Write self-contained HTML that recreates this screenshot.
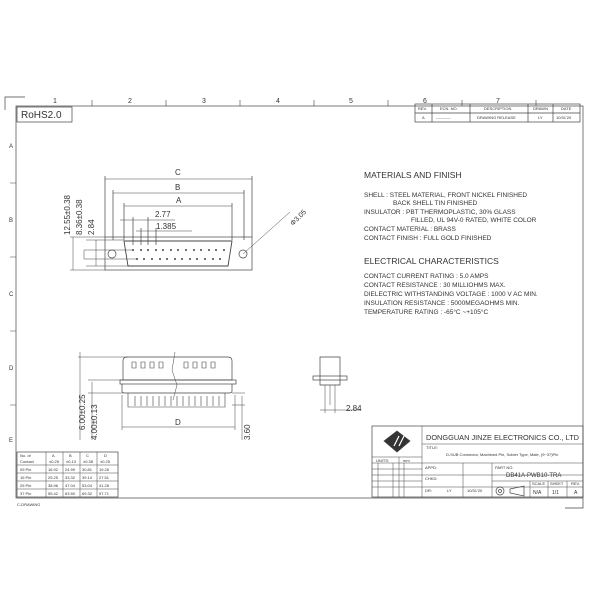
<!DOCTYPE html><html><head><meta charset="utf-8"><style>body{margin:0;background:#fff}svg{display:block}text{font-family:"Liberation Sans",sans-serif;fill:#333}</style></head><body>
<svg width="600" height="600" viewBox="0 0 600 600" stroke="#444" stroke-width="0.7" fill="none">
<rect width="600" height="600" fill="#fff" stroke="none"/>
<path d="M5 110V97H25"/><path d="M583 498V508H565"/>
<rect x="16" y="106" width="567" height="392"/>
<g stroke-width="0.6">
<path d="M92 100V106M166 100V106M240 100V106M314 100V106M388 100V106M462 100V106M536 100V106"/>
<path d="M10 183H16M10 257H16M10 331H16M10 405H16"/>
</g>
<g font-size="7" stroke="none"><text x="53" y="103">1</text><text x="128" y="103">2</text><text x="202" y="103">3</text><text x="276" y="103">4</text><text x="349" y="103">5</text><text x="423" y="103">6</text><text x="496" y="103">7</text>
<text x="9" y="148" font-size="6">A</text><text x="9" y="222" font-size="6">B</text><text x="9" y="296" font-size="6">C</text><text x="9" y="370" font-size="6">D</text><text x="9" y="442" font-size="6">E</text></g>
<rect x="17" y="107" width="55" height="15"/><text x="21" y="118" font-size="10" stroke="none">RoHS2.0</text>
<rect x="415" y="104" width="165" height="18"/><path d="M415 113H580M432 104V122M470 104V122M528 104V122M553 104V122"/>
<g font-size="4" stroke="none"><text x="418" y="110">REV.</text><text x="440" y="110">ECN. NO.</text><text x="484" y="110">DESCRIPTION</text><text x="533" y="110">DRAWN</text><text x="561" y="110">DATE</text>
<text x="422" y="119">A</text><text x="436" y="119">-----------</text><text x="477" y="119">DRAWING RELEASE</text><text x="538" y="119">LY</text><text x="556" y="119">10/31'20</text></g>
<rect x="105" y="237" width="147" height="33"/>
<path d="M124 241H232L228 266H128Z" stroke-width="0.9"/>
<circle cx="112" cy="254" r="4"/><circle cx="243" cy="254" r="4"/>
<path d="M105 237V176M252 237V176M113 240V190M244 240V190M124 240V203M232 240V203M133 245V217M148 245V217M141 245V228M156 245V228"/>
<path d="M105 179H252M113 193H244M124 206H232M120 220H175M136 231H192" stroke-width="0.5"/>
<g fill="#444" stroke="none"><circle cx="133" cy="250" r="1"/><circle cx="141" cy="250" r="1"/><circle cx="148" cy="250" r="1"/><circle cx="156" cy="250" r="1"/><circle cx="163" cy="250" r="1"/><circle cx="171" cy="250" r="1"/><circle cx="178" cy="250" r="1"/><circle cx="186" cy="250" r="1"/><circle cx="194" cy="250" r="1"/><circle cx="201" cy="250" r="1"/><circle cx="209" cy="250" r="1"/><circle cx="216" cy="250" r="1"/><circle cx="224" cy="250" r="1"/>
<circle cx="137" cy="259" r="1"/><circle cx="144" cy="259" r="1"/><circle cx="152" cy="259" r="1"/><circle cx="160" cy="259" r="1"/><circle cx="167" cy="259" r="1"/><circle cx="175" cy="259" r="1"/><circle cx="182" cy="259" r="1"/><circle cx="190" cy="259" r="1"/><circle cx="197" cy="259" r="1"/><circle cx="205" cy="259" r="1"/><circle cx="213" cy="259" r="1"/><circle cx="220" cy="259" r="1"/></g>
<path d="M243 254L290 212" stroke-width="0.5"/>
<path d="M70 237H105M70 270H105M84 250H133M84 259H137M73 237V270M84 250V259M96 240V266M86 240H124M86 266H128" stroke-width="0.5"/>
<g stroke="none" font-size="8"><text x="175" y="175">C</text><text x="175" y="190">B</text><text x="176" y="203">A</text><text x="155" y="217">2.77</text><text x="156" y="229">1.385</text>
<text transform="translate(293 226) rotate(-45)" font-size="7">Φ3.05</text>
<text transform="translate(70 235) rotate(-90)">12.55±0.38</text><text transform="translate(82 235) rotate(-90)">8.36±0.38</text><text transform="translate(94 235) rotate(-90)">2.84</text></g>
<g stroke="none" font-size="6.5"><text x="364" y="178" font-size="8.5">MATERIALS AND FINISH</text>
<text x="364" y="197">SHELL : STEEL MATERIAL, FRONT NICKEL FINISHED</text><text x="393" y="205">BACK SHELL TIN FINISHED</text>
<text x="364" y="214">INSULATOR : PBT THERMOPLASTIC, 30% GLASS</text><text x="411" y="222">FILLED, UL 94V-0 RATED, WHITE  COLOR</text>
<text x="364" y="231">CONTACT MATERIAL : BRASS</text><text x="364" y="240">CONTACT FINISH : FULL GOLD FINISHED</text>
<text x="364" y="264" font-size="8.5">ELECTRICAL CHARACTERISTICS</text>
<text x="364" y="278">CONTACT CURRENT RATING : 5.0 AMPS</text><text x="364" y="287">CONTACT RESISTANCE : 30 MILLIOHMS MAX.</text>
<text x="364" y="296">DIELECTRIC WITHSTANDING VOLTAGE : 1000 V AC MIN.</text><text x="364" y="305">INSULATION RESISTANCE : 5000MEGAOHMS MIN.</text>
<text x="364" y="314">TEMPERATURE RATING : -65°C ~+105°C</text></g>
<path d="M127 357H228Q232 357 232 361V380H123V361Q123 357 127 357Z"/>
<rect x="120" y="380" width="116" height="4"/><path d="M122 384V391Q122 393 125 393H229Q232 393 232 391V384"/>
<g stroke-width="0.6"><path d="M132 362h4v6h-4zM141 362h4v6h-4zM150 362h4v6h-4zM159 362h4v6h-4zM184 362h4v6h-4zM193 362h4v6h-4zM202 362h4v6h-4zM211 362h4v6h-4z"/>
<path d="M128 393V407H225V393M135 396V406M141 396V406M147 396V406M153 396V406M159 396V406M165 396V406M171 396V406M177 396V406M183 396V406M189 396V406M195 396V406M201 396V406M207 396V406M213 396V406M219 396V406"/></g>
<path d="M175 352L172 370L177 385L173 400" stroke-width="0.5"/>
<path d="M78 357H128M88 380H123M88 393H123M122 395V430M235 395V430M122 427H235M232 393H245M232 405H245M80 352V440M92 382V440M242 396V440" stroke-width="0.5"/>
<g stroke="none" font-size="8"><text x="175" y="425">D</text><text transform="translate(85 430) rotate(-90)">6.00±0.25</text><text transform="translate(97 440) rotate(-90)">4.00±0.13</text><text transform="translate(250 440) rotate(-90)">3.60</text></g>
<path d="M320 357H340V385H320Z"/><rect x="313" y="376" width="34" height="4"/><path d="M325 385V405M330 385V405M335 385V405M320 410H360M325 405V413M335 405V413" stroke-width="0.5"/>
<text x="346" y="411" font-size="8" stroke="none">2.84</text>
<rect x="17" y="452" width="101" height="45"/><path d="M17 465H118M17 473H118M17 481H118M17 489H118M46 452V497M63 452V497M80 452V497M97 452V497" stroke-width="0.5"/>
<g stroke="none" font-size="4"><text x="20" y="457">No. of</text><text x="20" y="463">Contact</text><text x="52" y="457">A</text><text x="49" y="463">±0.25</text><text x="69" y="457">B</text><text x="66" y="463">±0.13</text><text x="86" y="457">C</text><text x="83" y="463">±0.38</text><text x="104" y="457">D</text><text x="100" y="463">±0.25</text>
<text x="20" y="471">09 Pin</text><text x="48" y="471">16.92</text><text x="65" y="471">24.99</text><text x="82" y="471">30.81</text><text x="99" y="471">19.26</text>
<text x="20" y="479">15 Pin</text><text x="48" y="479">25.25</text><text x="65" y="479">33.32</text><text x="82" y="479">39.14</text><text x="99" y="479">27.51</text>
<text x="20" y="487">25 Pin</text><text x="48" y="487">38.96</text><text x="65" y="487">47.04</text><text x="82" y="487">53.04</text><text x="99" y="487">41.28</text>
<text x="20" y="495">37 Pin</text><text x="48" y="495">55.42</text><text x="65" y="495">63.50</text><text x="82" y="495">69.32</text><text x="99" y="495">57.71</text>
<text x="17" y="506">C-DRAWING</text></g>
<rect x="372" y="426" width="211" height="71"/>
<path d="M422 426V497M422 444H583M372 457H422M372 463H583M372 469H422M372 475H583M372 481H422M372 487H583M463 463V497M492 463V497M492 481H583M530 481V497M548 481V497M567 481V497M378 463V497M393 463V497M399 457V497M404 463V497" stroke-width="0.5"/>
<path d="M397 431L410 441L397 452L384 441Z" fill="#333"/><path d="M394 446L399 436M399 446L404 436" stroke="#fff" stroke-width="1.2"/>
<g stroke="none" font-size="4"><text x="426" y="440" font-size="7" fill="#555" textLength="153" lengthAdjust="spacingAndGlyphs">DONGGUAN  JINZE  ELECTRONICS  CO.,  LTD</text>
<text x="426" y="449">TITLE:</text><text x="446" y="456">D-SUB Connector, Machined Pin, Solder Type, Male, (9~37)Pin</text>
<text x="376" y="462">UNITS:</text><text x="403" y="462">mm</text>
<text x="425" y="469">APPD:</text><text x="425" y="480">CHKD:</text><text x="425" y="492">DR:</text><text x="447" y="492">LY</text><text x="467" y="492">10/31'20</text>
<text x="495" y="469">PART NO.</text><text x="506" y="477" font-size="6">DB41A-PWB10-TRA</text>
<text x="532" y="485">SCALE</text><text x="550" y="485">SHEET</text><text x="571" y="485">REV.</text>
<text x="533" y="494" font-size="5">N/A</text><text x="552" y="494" font-size="5">1/1</text><text x="574" y="494" font-size="5">A</text></g>
<circle cx="500" cy="491" r="4"/><circle cx="500" cy="491" r="1.5"/><path d="M510 489L524 486V496L510 493Z"/>
</svg></body></html>
